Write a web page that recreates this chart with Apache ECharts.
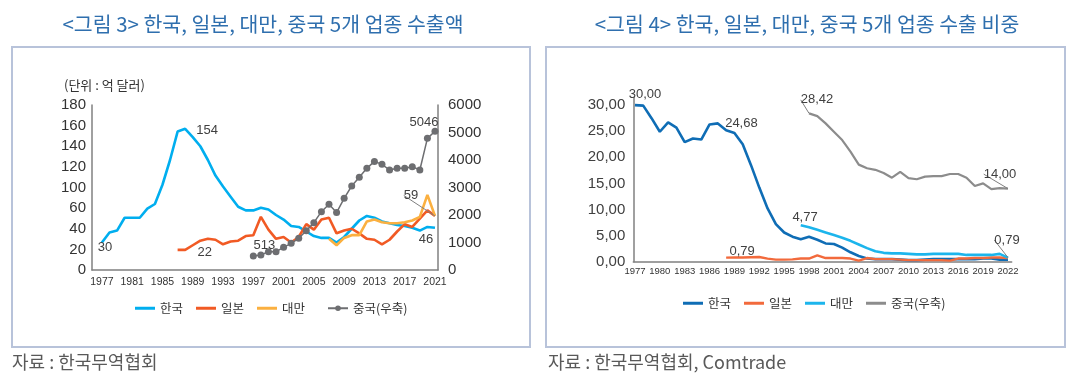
<!DOCTYPE html>
<html><head><meta charset="utf-8">
<script src="https://cdn.jsdelivr.net/npm/echarts@6/dist/echarts.min.js"></script>
<style>
html,body{margin:0;padding:0;background:#fff;width:1079px;height:384px;overflow:hidden}
#l{position:absolute;left:0;top:0;width:540px;height:384px}
#r{position:absolute;left:540px;top:0;width:539px;height:384px}
</style>
</head><body><div id="l"></div><div id="r"></div>
<script>
// ---------------- LEFT: 수출액 ----------------
const leftYears = [1977,1978,1979,1980,1981,1982,1983,1984,1985,1986,1987,1988,1989,1990,1991,1992,1993,1994,1995,1996,1997,1998,1999,2000,2001,2002,2003,2004,2005,2006,2007,2008,2009,2010,2011,2012,2013,2014,2015,2016,2017,2018,2019,2020,2021];
const leftKorea = [30,41,43,57,57,57,67,72,93,120,151,154,145,135,120,103,91,80,69,65,65,68,66,60,55,48,47,42,37,35,35,30,36,45,54,59,57,53,51,49,48,46,43,47,46];
const leftJapan = [null,null,null,null,null,null,null,null,null,null,22,22,27,32,34,33,28,31,32,37,38,58,44,34,36,30,36,50,44,55,57,40,43,45,40,34,33,28,33,42,50,47,56,65,59];
const leftTaiwan = [null,null,null,null,null,null,null,null,null,null,null,null,null,null,null,null,null,null,null,null,null,null,null,null,null,null,null,null,null,null,34,27,35,38,38,53,55,52,51,51,52,54,58,82,59];
const leftChina = [null,null,null,null,null,null,null,null,null,null,null,null,null,null,null,null,null,null,null,null,513,545,667,667,824,970,1152,1430,1721,2121,2388,2090,2606,3054,3370,3697,3950,3842,3636,3697,3697,3757,3636,4788,5046];
const leftYTickLabels = ['0','20','40','60','100','120','140','160','180'];
const leftXTickYears = [1977,1981,1985,1989,1993,1997,2001,2005,2009,2013,2017,2021];

// ---------------- RIGHT: 수출 비중 ----------------
const rightYears = [1977,1978,1979,1980,1981,1982,1983,1984,1985,1986,1987,1988,1989,1990,1991,1992,1993,1994,1995,1996,1997,1998,1999,2000,2001,2002,2003,2004,2005,2006,2007,2008,2009,2010,2011,2012,2013,2014,2015,2016,2017,2018,2019,2020,2021,2022];
const rightKorea = [30.00,29.9,27.5,24.9,26.7,25.7,22.9,23.6,23.4,26.3,26.5,25.2,24.68,22.5,18.5,14.2,10.2,7.2,5.6,4.8,4.3,4.77,4.2,3.5,3.4,2.7,1.8,1.1,0.6,0.5,0.5,0.5,0.4,0.3,0.3,0.4,0.5,0.5,0.5,0.5,0.5,0.5,0.6,0.6,0.4,0.4];
const rightJapan = [null,null,null,null,null,null,null,null,null,null,null,0.79,0.8,0.8,0.85,0.9,0.6,0.4,0.4,0.45,0.6,0.6,1.2,0.7,0.7,0.7,0.6,0.2,0.7,0.5,0.5,0.5,0.4,0.3,0.3,0.3,0.3,0.3,0.2,0.6,0.6,0.7,0.7,0.8,0.8,0.7];
const rightTaiwan = [null,null,null,null,null,null,null,null,null,null,null,null,null,null,null,null,null,null,null,null,7.0,6.6,6.1,5.6,5.1,4.6,4.0,3.3,2.6,2.0,1.7,1.6,1.6,1.5,1.4,1.4,1.5,1.5,1.5,1.5,1.3,1.3,1.3,1.3,1.5,0.79];
const rightChina = [null,null,null,null,null,null,null,null,null,null,null,null,null,null,null,null,null,null,null,null,null,28.42,27.9,26.5,24.9,23.3,21.1,18.6,17.9,17.6,17.0,16.1,17.2,16.0,15.8,16.3,16.4,16.4,16.8,16.8,16.1,14.5,15.0,13.9,14.1,14.0];
const rightXTickYears = [1977,1980,1983,1986,1989,1992,1995,1998,2001,2004,2007,2010,2013,2016,2019,2022];

const NUM = '"Liberation Sans Narrow","Liberation Sans",Arial,sans-serif';
const KR = '"Noto Sans CJK KR","Noto Sans",sans-serif';
const LBL = '#404040';

function build(years, vals, labels) {
  const out = [];
  years.forEach((y, i) => {
    if (vals[i] == null) return;
    const d = [y, vals[i]];
    if (labels && labels[y]) out.push({ value: d, label: Object.assign({ show: true }, labels[y]) });
    else out.push(d);
  });
  return out;
}

function lineSeries(name, color, width, data, extra) {
  return Object.assign({
    name, type: 'line', data,
    showSymbol: true, symbol: 'circle', symbolSize: 0,
    lineStyle: { color, width }, itemStyle: { color },
    label: { show: false, fontFamily: NUM, fontSize: 13, color: LBL },
    emphasis: { disabled: true }, animation: false, silent: true, z: 2
  }, extra || {});
}

const intFmt = p => String(p.value[1]);
const decFmt = p => p.value[1].toFixed(2).replace('.', ',');

// ----- left chart
const chartL = echarts.init(document.getElementById('l'), null, { renderer: 'canvas' });
chartL.setOption({
  backgroundColor: '#fff',
  animation: false,
  graphic: [
    { type: 'rect', shape: { x: 12, y: 47, width: 518, height: 300 }, style: { fill: 'none', stroke: '#b8c3da', lineWidth: 2 }, silent: true },
    { type: 'text', x: 263, y: 24, style: { text: '<그림 3> 한국, 일본, 대만, 중국 5개 업종 수출액', font: '20.5px ' + KR, fill: '#2f6fae', align: 'center', verticalAlign: 'middle' }, silent: true },
    { type: 'text', x: 64, y: 85, style: { text: '(단위 : 억 달러)', font: '13px ' + KR, fill: '#333', align: 'left', verticalAlign: 'middle' }, silent: true },
    { type: 'text', x: 12, y: 362, style: { text: '자료 : 한국무역협회', font: '18px ' + KR, fill: '#595959', align: 'left', verticalAlign: 'middle' }, silent: true }
  ],
  legend: [
    { data: ['한국', '일본', '대만'], icon: 'rect', itemWidth: 20, itemHeight: 3, itemGap: 13, left: 130, top: 297,
      textStyle: { fontFamily: KR, fontSize: 12.5, color: '#333' }, selectedMode: false },
    { data: ['중국(우축)'], itemWidth: 20, itemHeight: 7, left: 322, top: 297,
      textStyle: { fontFamily: KR, fontSize: 12.5, color: '#333' }, selectedMode: false }
  ],
  grid: { left: 92, right: 102, top: 105, bottom: 114 },
  xAxis: {
    type: 'value', min: 1975.69, max: 2021.4,
    axisLine: { show: true, lineStyle: { color: '#808080', width: 1.5 } },
    axisTick: { show: false }, splitLine: { show: false },
    axisLabel: { customValues: leftXTickYears, showMinLabel: true, showMaxLabel: true, margin: 7, fontFamily: NUM, fontSize: 10.5, color: '#333', formatter: v => String(v) }
  },
  yAxis: [
    { type: 'value', min: 0, max: 180, interval: 22.5,
      axisLine: { show: true, lineStyle: { color: '#808080', width: 1.5 } },
      axisTick: { show: false }, splitLine: { show: false },
      axisLabel: { margin: 6, fontFamily: NUM, fontSize: 15, color: '#333', formatter: v => leftYTickLabels[Math.round(v / 22.5)] } },
    { type: 'value', min: 0, max: 6000, interval: 1000, position: 'right',
      axisLine: { show: true, lineStyle: { color: '#808080', width: 1.5 } },
      axisTick: { show: false }, splitLine: { show: false },
      axisLabel: { margin: 10, fontFamily: NUM, fontSize: 15, color: '#333', formatter: v => String(v) } }
  ],
  series: [
    lineSeries('한국', '#00aeef', 2.6, build(leftYears, leftKorea, {
      1977: { position: 'bottom', offset: [3, -7], formatter: intFmt },
      1988: { position: 'right', offset: [6, 2], formatter: intFmt },
      2021: { position: 'bottom', offset: [-9, 0], formatter: intFmt }
    })),
    lineSeries('일본', '#f15a24', 2.6, build(leftYears, leftJapan, {
      1987: { position: 'right', offset: [15, 3], formatter: intFmt }
    })),
    lineSeries('대만', '#fbb040', 2.6, build(leftYears, leftTaiwan, {
      2021: { position: 'top', formatter: intFmt }
    }), { labelLine: { show: true, lineStyle: { color: '#7f7f7f', width: 1 } }, labelLayout: { dx: -24, dy: -9 } }),
    lineSeries('중국(우축)', '#6d6e71', 1.5, build(leftYears, leftChina, {
      1997: { position: 'top', offset: [11, 5], formatter: intFmt },
      2021: { position: 'top', offset: [-11, 6], formatter: intFmt }
    }), { yAxisIndex: 1, symbolSize: 7, z: 3 })
  ]
});

// ----- right chart
const chartR = echarts.init(document.getElementById('r'), null, { renderer: 'canvas' });
chartR.setOption({
  backgroundColor: '#fff',
  animation: false,
  graphic: [
    { type: 'rect', shape: { x: 6, y: 47, width: 519, height: 300 }, style: { fill: 'none', stroke: '#b8c3da', lineWidth: 2 }, silent: true },
    { type: 'text', x: 267, y: 24, style: { text: '<그림 4> 한국, 일본, 대만, 중국 5개 업종 수출 비중', font: '20.5px ' + KR, fill: '#2f6fae', align: 'center', verticalAlign: 'middle' }, silent: true },
    { type: 'text', x: 8, y: 362, style: { text: '자료 : 한국무역협회, Comtrade', font: '18px ' + KR, fill: '#595959', align: 'left', verticalAlign: 'middle' }, silent: true }
  ],
  legend: { data: ['한국', '일본', '대만', '중국(우축)'], icon: 'rect', itemWidth: 20, itemHeight: 3, itemGap: 13, left: 138, top: 292,
    textStyle: { fontFamily: KR, fontSize: 12.5, color: '#333' }, selectedMode: false },
  grid: { left: 93.3, right: 67.3, top: 97.3, bottom: 122.3 },
  xAxis: {
    type: 'value', min: 1976.8, max: 2022.45,
    axisLine: { show: true, lineStyle: { color: '#808080', width: 1.5 } },
    axisTick: { show: false }, splitLine: { show: false },
    axisLabel: { customValues: rightXTickYears, showMinLabel: true, showMaxLabel: true, hideOverlap: false, margin: 5, fontFamily: NUM, fontSize: 9.5, color: '#333', formatter: v => String(v) }
  },
  yAxis: {
    type: 'value', min: 0, max: 31.5, interval: 5,
    axisLine: { show: true, lineStyle: { color: '#808080', width: 1.5 } },
    axisTick: { show: false }, splitLine: { show: false },
    axisLabel: { margin: 8, fontFamily: NUM, fontSize: 15, color: '#404040', formatter: v => (v > 30.001 ? '' : v.toFixed(2).replace('.', ',')) }
  },
  series: [
    lineSeries('한국', '#0f6db5', 2.6, build(rightYears, rightKorea, {
      1977: { position: 'top', offset: [10, 1], formatter: decFmt },
      1989: { position: 'top', offset: [7, 2], formatter: decFmt },
      1998: { position: 'top', offset: [-4, -8], formatter: decFmt }
    })),
    lineSeries('일본', '#f26a3c', 2.4, build(rightYears, rightJapan, {
      1988: { position: 'top', offset: [16, 5], formatter: decFmt }
    })),
    lineSeries('대만', '#1cb5ec', 2.6, build(rightYears, rightTaiwan, {
      2022: { position: 'top', formatter: decFmt }
    }), { labelLine: { show: true, lineStyle: { color: '#7f7f7f', width: 1 } }, labelLayout: { dx: -1, dy: -6 } }),
    lineSeries('중국(우축)', '#8c8c8c', 2.2, build(rightYears, rightChina, {
      1998: { position: 'top', formatter: decFmt },
      2022: { position: 'top', formatter: decFmt }
    }), { labelLine: { show: true, lineStyle: { color: '#7f7f7f', width: 1 } },
          labelLayout: p => (p.dataIndex === 0 ? { dx: 8, dy: -2 } : { dx: -8, dy: -3 }) })
  ]
});
</script></body></html>
